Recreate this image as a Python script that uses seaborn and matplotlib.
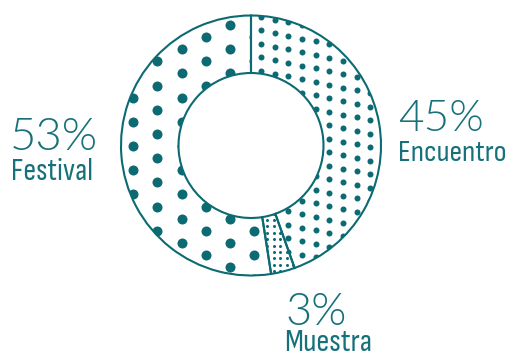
import numpy as np
import matplotlib
matplotlib.use("Agg")
import matplotlib.pyplot as plt
import seaborn as sns
from matplotlib import font_manager as fm
from matplotlib.font_manager import FontProperties
from matplotlib.textpath import TextPath

# ---- data ----
labels = ["Encuentro", "Muestra", "Festival"]
values = [45, 3, 53]
pct_labels = ["45%", "3%", "53%"]

W, H = 507, 354
sns.set_theme(style="white")
teal = "#0b6a72"
text_teal = "#17717a"

fonts = fm.fontManager.ttflist
available = {f.name for f in fonts}


def has_weight(fam, wt):
    return any(f.name == fam and f.weight == wt and f.style == "normal" for f in fonts)


num_cands = [("IBM Plex Sans", 300), ("IBM Plex Sans Condensed", 300),
             ("Roboto", 300), ("Open Sans", 300), ("Lato", 300)]
num_cands = [c for c in num_cands if has_weight(*c)] or [("Roboto", 400), ("DejaVu Sans", 400)]
lab_cands = [("IBM Plex Sans Condensed", 400), ("Liberation Sans Narrow", 400),
             ("Roboto Condensed", 400), ("Sofia Sans Condensed", 400), ("Roboto", 400)]
lab_cands = [c for c in lab_cands if c[0] in available] or [("DejaVu Sans", 400)]

# text ink boxes in the reference (left, right, top, bottom) in pixels
boxes = {
    "45%": (398.3, 481.7, 100.0, 131.7),
    "Encuentro": (398.3, 506.0, 141.7, 161.7),
    "3%": (286.7, 345.0, 293.3, 325.0),
    "Muestra": (286.7, 370.0, 330.0, 351.7),
    "53%": (12.0, 97.0, 118.0, 150.0),
    "Festival": (13.0, 92.0, 158.3, 180.0),
}


def ink(s, fam, wt):
    fp = FontProperties(family=fam, weight=wt)
    ext = TextPath((0, 0), s, size=100, prop=fp).get_extents()
    return fp, ext


def pick(strings, cands):
    best = None
    for fam, wt in cands:
        err = 0
        for s in strings:
            _, e = ink(s, fam, wt)
            l, r, t, b = boxes[s]
            err += abs(np.log((e.width / e.height) / ((r - l) / (b - t))))
        if best is None or err < best[0] - 0.02:
            best = (err, fam, wt)
    return best[1], best[2]


num_font = pick(pct_labels, num_cands)
lab_font = pick(labels, lab_cands)

fig = plt.figure(figsize=(W / 100, H / 100), dpi=100)
fig.patch.set_facecolor("white")
ax = fig.add_axes([0, 0, 1, 1])

cx, cy = 251, H - 145.5
R, ring = 130, 57.5

wedges, _ = ax.pie(values, startangle=90, counterclock=False, radius=R,
                   center=(cx, cy), frame=True,
                   wedgeprops=dict(width=ring, facecolor="white", linewidth=0))

# dot textures (pattern spacing in pixels), clipped to each wedge
tex = {
    "Festival": dict(x0=230, dx=24.2, y0=25, dy=24.2, shift=12.1, alt=True, d=10),
    "Encuentro": dict(x0=261, dx=13.65, y0=16.7, dy=13.5, shift=2.8, alt=False, d=6),
    "Muestra": dict(x0=267.3, dx=6.4, y0=220, dy=6.4, shift=0.0, alt=False, d=3),
}
for wedge, lab in zip(wedges, labels):
    t = tex[lab]
    xs, ys = [], []
    for k in range(-40, 41):
        x = t["x0"] + k * t["dx"]
        if x < 100 or x > 400:
            continue
        base = t["y0"] + ((k % 2) if t["alt"] else k) * t["shift"]
        for j in range(-80, 81):
            y = base + j * t["dy"]
            if -10 < y < 300:
                xs.append(x)
                ys.append(H - y)
    sc = ax.scatter(xs, ys, s=(t["d"] * 0.72) ** 2, color=teal, linewidths=0, zorder=3)
    sc.set_clip_path(wedge)

# outlines on top
w2, _ = ax.pie(values, startangle=90, counterclock=False, radius=R,
               center=(cx, cy), frame=True,
               wedgeprops=dict(width=ring, facecolor="none", edgecolor=teal, linewidth=1.5))
for w in w2:
    w.set_zorder(5)

ax.set_xlim(0, W)
ax.set_ylim(0, H)
ax.set_aspect("equal")
ax.axis("off")


def place(s, font):
    fam, wt = font
    fp, e = ink(s, fam, wt)
    l, r, t, b = boxes[s]
    sh = (b - t) / e.height
    sw = (r - l) / e.width
    sc_ = (sh * sw) ** 0.5
    px = 100 * sc_
    x = l - e.x0 * sc_ + ((r - l) - e.width * sc_) / 2
    ybase = b + e.y0 * sc_
    ax.text(x, H - ybase, s, fontsize=px * 0.72, family=fam, fontweight=wt,
            color=text_teal, ha="left", va="baseline")


for lab, pct in zip(labels, pct_labels):
    place(pct, num_font)
    place(lab, lab_font)

fig.savefig("out.png", dpi=100, facecolor="white")
